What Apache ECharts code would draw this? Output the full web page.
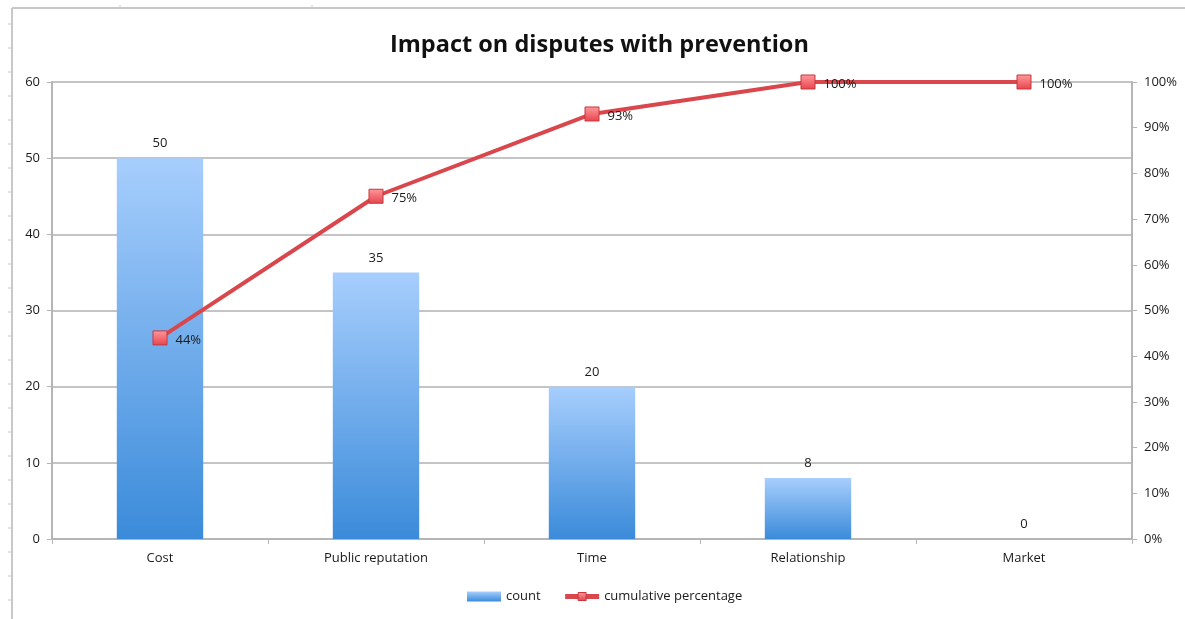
<!DOCTYPE html>
<html>
<head>
<meta charset="utf-8">
<title>Impact on disputes with prevention</title>
<script src="https://cdn.jsdelivr.net/npm/echarts@6/dist/echarts.min.js"></script>
<style>
  html, body { margin: 0; padding: 0; background: #fff; }
  #chart { width: 1185px; height: 619px; }
</style>
</head>
<body>
<div id="chart"></div>
<script>
// Pareto data: counts per impact category and running share of the total
const categories = ['Cost', 'Public reputation', 'Time', 'Relationship', 'Market'];
const counts = [50, 35, 20, 8, 0];
const cumulativePct = [44, 75, 93, 100, 100];
const countTicks = [0, 10, 20, 30, 40, 50, 60];
const pctTicks = [0, 10, 20, 30, 40, 50, 60, 70, 80, 90, 100];

const FONT = '"Open Sans", "Noto Sans", sans-serif';
const LABEL_SIZE = 13;
const TEXT_COLOR = '#1a1a1a';
const chart = echarts.init(document.getElementById('chart'), null, { renderer: 'canvas' });

// thin ruler-like frame along the top and left edges
const frame = [
  { type: 'line', shape: { x1: 12, y1: 8, x2: 1185, y2: 8 }, style: { stroke: '#c8c8c8', lineWidth: 2 } },
  { type: 'line', shape: { x1: 12, y1: 8, x2: 12, y2: 619 }, style: { stroke: '#c8c8c8', lineWidth: 2 } }
];
for (let y = 24; y < 619; y += 24) {
  frame.push({ type: 'line', shape: { x1: 8, y1: y, x2: 12, y2: y }, style: { stroke: '#c8c8c8', lineWidth: 1 } });
}
[120, 312].forEach(function (x) {
  frame.push({ type: 'line', shape: { x1: x, y1: 5, x2: x, y2: 8 }, style: { stroke: '#c8c8c8', lineWidth: 1 } });
});

const markerFill = new echarts.graphic.LinearGradient(0, 0, 0, 1, [
  { offset: 0, color: '#ff9a9e' },
  { offset: 1, color: '#e6434b' }
]);

chart.setOption({
  animation: false,
  backgroundColor: '#ffffff',
  textStyle: { fontFamily: FONT },
  graphic: frame,
  title: {
    text: 'Impact on disputes with prevention',
    left: 385,
    top: 28,
    textStyle: { fontFamily: FONT, fontSize: 23.5, fontWeight: 'bold', color: '#111' }
  },
  legend: {
    bottom: 11,
    left: 462,
    itemGap: 22,
    itemWidth: 34,
    itemHeight: 10,
    textStyle: { fontFamily: FONT, fontSize: LABEL_SIZE, color: TEXT_COLOR },
    data: [
      { name: 'count', icon: 'rect', itemHeight: 7 },
      {
        name: 'cumulative percentage',
        lineStyle: { width: 5, color: '#d9464c' },
        itemStyle: { color: markerFill, borderColor: '#c8363d', borderWidth: 1 }
      }
    ]
  },
  grid: { left: 52, right: 53, top: 82, bottom: 80, containLabel: false },
  xAxis: {
    type: 'category',
    data: categories,
    axisLine: { lineStyle: { color: '#b5b5b5', width: 2 } },
    axisTick: { show: true, alignWithLabel: false, length: 5, lineStyle: { color: '#b5b5b5' } },
    axisLabel: { color: TEXT_COLOR, fontSize: LABEL_SIZE, margin: 13, fontFamily: FONT },
    splitLine: { show: false }
  },
  yAxis: [
    {
      type: 'value',
      min: countTicks[0],
      max: countTicks[countTicks.length - 1],
      interval: 10,
      axisLine: { show: true, lineStyle: { color: '#b5b5b5', width: 2 } },
      axisTick: { show: true, length: 5, lineStyle: { color: '#b5b5b5' } },
      axisLabel: { color: TEXT_COLOR, fontSize: LABEL_SIZE, margin: 12, fontFamily: FONT },
      splitLine: { show: true, lineStyle: { color: '#c4c4c4', width: 2 } }
    },
    {
      type: 'value',
      min: pctTicks[0],
      max: pctTicks[pctTicks.length - 1],
      interval: 10,
      position: 'right',
      axisLine: { show: true, lineStyle: { color: '#b5b5b5', width: 2 } },
      axisTick: { show: true, inside: false, length: 5, lineStyle: { color: '#b5b5b5' } },
      axisLabel: { color: TEXT_COLOR, fontSize: LABEL_SIZE, margin: 12, formatter: '{value}%', fontFamily: FONT },
      splitLine: { show: false }
    }
  ],
  series: [
    {
      name: 'count',
      type: 'bar',
      yAxisIndex: 0,
      barWidth: '40%',
      data: counts,
      itemStyle: {
        color: new echarts.graphic.LinearGradient(0, 0, 0, 1, [
          { offset: 0, color: '#a7cefd' },
          { offset: 1, color: '#3b8bda' }
        ])
      },
      label: {
        show: true,
        position: 'top',
        distance: 8,
        color: TEXT_COLOR,
        fontSize: LABEL_SIZE,
        fontFamily: FONT
      }
    },
    {
      name: 'cumulative percentage',
      type: 'line',
      yAxisIndex: 1,
      data: cumulativePct,
      symbol: 'rect',
      symbolSize: 14,
      lineStyle: { color: '#d9464c', width: 4 },
      itemStyle: { color: markerFill, borderColor: '#c8363d', borderWidth: 1 },
      label: {
        show: true,
        position: 'right',
        distance: 8,
        offset: [0, 2],
        color: TEXT_COLOR,
        fontSize: LABEL_SIZE,
        fontFamily: FONT,
        formatter: function (p) { return p.value + '%'; }
      },
      z: 5
    }
  ]
});
</script>
</body>
</html>
